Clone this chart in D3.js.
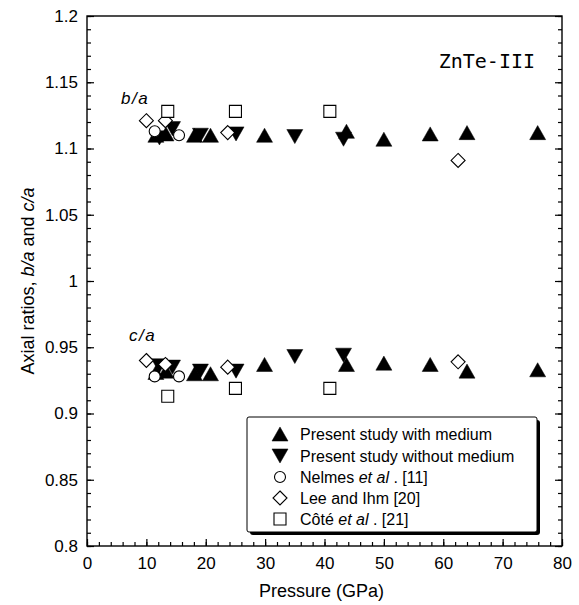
<!DOCTYPE html>
<html>
<head>
<meta charset="utf-8">
<script src="https://cdn.jsdelivr.net/npm/d3@7"></script>
<style>
  body { margin: 0; background: #fff; }
  svg { display: block; }
  text { font-family: "Liberation Sans", Arial, sans-serif; fill: #000; }
  .axis path { display: none; }
  .axis line { stroke: #000; stroke-width: 1.2; }
</style>
</head>
<body>
<svg id="chart" width="579" height="605"></svg>
<script>
// --- data ---
// present study with medium (filled up triangles)
const mediumP  = [11.6, 13.3, 18.1, 20.8, 29.9, 43.7, 50.0, 57.8, 64.0, 75.9];
const mediumBA = [1.110, 1.111, 1.110, 1.110, 1.110, 1.113, 1.107, 1.111, 1.112, 1.112];
const mediumCA = [0.931, 0.932, 0.930, 0.930, 0.937, 0.937, 0.938, 0.937, 0.932, 0.933];
// present study without medium (filled down triangles)
const noMediumP  = [12.2, 14.4, 19.1, 25.1, 35.0, 43.2];
const noMediumBA = [1.108, 1.115, 1.110, 1.111, 1.109, 1.107];
const noMediumCA = [0.936, 0.935, 0.932, 0.932, 0.943, 0.944];
// Nelmes et al. [11]
const nelmesP  = [11.4, 15.5];
const nelmesBA = [1.113, 1.110];
const nelmesCA = [0.928, 0.928];
// Lee and Ihm [20]
const leeP  = [10.0, 13.2, 23.7, 62.5];
const leeBA = [1.121, 1.121, 1.112, 1.091];
const leeCA = [0.940, 0.937, 0.935, 0.939];
// Cote et al. [21]
const coteP  = [13.6, 25.0, 40.9];
const coteBA = [1.128, 1.128, 1.128];
const coteCA = [0.913, 0.919, 0.919];

const xTicks = [0, 10, 20, 30, 40, 50, 60, 70, 80];
const yTicks = [0.8, 0.85, 0.9, 0.95, 1, 1.05, 1.1, 1.15, 1.2];

const svg = d3.select('#chart');
const mLeft = 87, mRight = 562, mTop = 16, mBottom = 546;

const x = d3.scaleLinear().domain([0, 80]).range([mLeft, mRight]);
const y = d3.scaleLinear().domain([0.8, 1.2]).range([mBottom, mTop]);

// marker shapes, centred on their bounding box
const shapes = {
  up: (s) => `M0,${-s * 0.44}L${s / 2},${s * 0.44}L${-s / 2},${s * 0.44}Z`,
  down: (s) => `M0,${s * 0.44}L${s / 2},${-s * 0.44}L${-s / 2},${-s * 0.44}Z`,
  diamond: (s) => `M0,${-s / 2}L${s / 2},0L0,${s / 2}L${-s / 2},0Z`,
  square: (s) => `M${-s / 2},${-s / 2}h${s}v${s}h${-s}Z`,
};

function marker(g, type, cx, cy, size) {
  if (type === 'circle') {
    return g.append('circle').attr('cx', cx).attr('cy', cy).attr('r', size / 2)
      .attr('fill', '#fff').attr('stroke', '#000').attr('stroke-width', 1.1);
  }
  const filled = type === 'up' || type === 'down';
  return g.append('path')
    .attr('d', shapes[type](size))
    .attr('transform', `translate(${cx},${cy})`)
    .attr('fill', filled ? '#000' : '#fff')
    .attr('stroke', '#000')
    .attr('stroke-width', filled ? 0.5 : 1.1);
}

// axes
const tickFmt = (d) => String(+d.toFixed(2));

svg.append('g').attr('class', 'axis')
  .attr('transform', `translate(${mLeft},0)`)
  .call(d3.axisLeft(y).tickValues(d3.range(0.8, 1.2001, 0.01)).tickSize(-4).tickFormat(''));
svg.append('g').attr('class', 'axis')
  .attr('transform', `translate(${mLeft},0)`)
  .call(d3.axisLeft(y).tickValues(yTicks).tickSize(-7).tickPadding(9).tickFormat(tickFmt))
  .selectAll('text').style('font-size', '17px');

svg.append('g').attr('class', 'axis')
  .attr('transform', `translate(${mRight},0)`)
  .call(d3.axisRight(y).tickValues(d3.range(0.8, 1.2001, 0.01)).tickSize(-4).tickFormat(''));
svg.append('g').attr('class', 'axis')
  .attr('transform', `translate(${mRight},0)`)
  .call(d3.axisRight(y).tickValues(yTicks).tickSize(-7).tickFormat(''));

svg.append('g').attr('class', 'axis')
  .attr('transform', `translate(0,${mBottom})`)
  .call(d3.axisBottom(x).tickValues(d3.range(0, 80.001, 2)).tickSize(-4).tickFormat(''));
svg.append('g').attr('class', 'axis')
  .attr('transform', `translate(0,${mBottom})`)
  .call(d3.axisBottom(x).tickValues(xTicks).tickSize(-7).tickPadding(11).tickFormat(d3.format('d')))
  .selectAll('text').style('font-size', '17px');

svg.append('rect')
  .attr('x', mLeft).attr('y', mTop)
  .attr('width', mRight - mLeft).attr('height', mBottom - mTop)
  .attr('fill', 'none').attr('stroke', '#000').attr('stroke-width', 1.4);

// axis titles
svg.append('text')
  .attr('x', (mLeft + mRight) / 2 - 3).attr('y', 597)
  .attr('text-anchor', 'middle').style('font-size', '18px')
  .text('Pressure (GPa)');

const yt = svg.append('text')
  .attr('transform', `translate(34,${(mTop + mBottom) / 2}) rotate(-90)`)
  .attr('text-anchor', 'middle').style('font-size', '18px');
yt.append('tspan').text('Axial ratios, ');
yt.append('tspan').style('font-style', 'italic').text('b/a');
yt.append('tspan').text(' and ');
yt.append('tspan').style('font-style', 'italic').text('c/a');

// panel labels
svg.append('text')
  .attr('x', 535).attr('y', 68).attr('text-anchor', 'end')
  .style('font-family', '"DejaVu Sans Mono", monospace').style('font-size', '20px')
  .text('ZnTe-III');
svg.append('text').attr('x', 121).attr('y', 104)
  .style('font-style', 'italic').style('font-size', '17px').style('letter-spacing', '1.5px')
  .text('b/a');
svg.append('text').attr('x', 129).attr('y', 341)
  .style('font-style', 'italic').style('font-size', '17px').style('letter-spacing', '1.5px')
  .text('c/a');

// points: filled triangles first, open symbols on top
const pts = svg.append('g');
const series = [
  { type: 'up', size: 16, p: mediumP, ba: mediumBA, ca: mediumCA },
  { type: 'down', size: 16, p: noMediumP, ba: noMediumBA, ca: noMediumCA },
  { type: 'circle', size: 11, p: nelmesP, ba: nelmesBA, ca: nelmesCA },
  { type: 'diamond', size: 14, p: leeP, ba: leeBA, ca: leeCA },
  { type: 'square', size: 12, p: coteP, ba: coteBA, ca: coteCA },
];
series.forEach((s) => {
  s.p.forEach((p, i) => {
    marker(pts, s.type, x(p), y(s.ba[i]), s.size);
    marker(pts, s.type, x(p), y(s.ca[i]), s.size);
  });
});

// legend
const legendItems = [
  { type: 'up', size: 16, label: ['Present study with medium'] },
  { type: 'down', size: 16, label: ['Present study without medium'] },
  { type: 'circle', size: 11, label: ['Nelmes ', 'et al', ' . [11]'] },
  { type: 'diamond', size: 14, label: ['Lee and Ihm [20]'] },
  { type: 'square', size: 12, label: ['C\u00f4t\u00e9 ', 'et al', ' . [21]'] },
];
const lg = svg.append('g');
lg.append('rect').attr('x', 250).attr('y', 420).attr('width', 290).attr('height', 115)
  .attr('rx', 3).attr('fill', '#000');
lg.append('rect').attr('x', 247).attr('y', 417).attr('width', 290).attr('height', 115)
  .attr('rx', 2).attr('fill', '#fff').attr('stroke', '#000').attr('stroke-width', 1);

const rowY = [434, 456, 477, 498, 519];
legendItems.forEach((d, i) => {
  marker(lg, d.type, 280, rowY[i], d.size);
  const t = lg.append('text').attr('x', 300).attr('y', rowY[i] + 5.5).style('font-size', '16px');
  d.label.forEach((part, j) => {
    t.append('tspan').style('font-style', j === 1 ? 'italic' : 'normal').text(part);
  });
});
</script>
</body>
</html>
